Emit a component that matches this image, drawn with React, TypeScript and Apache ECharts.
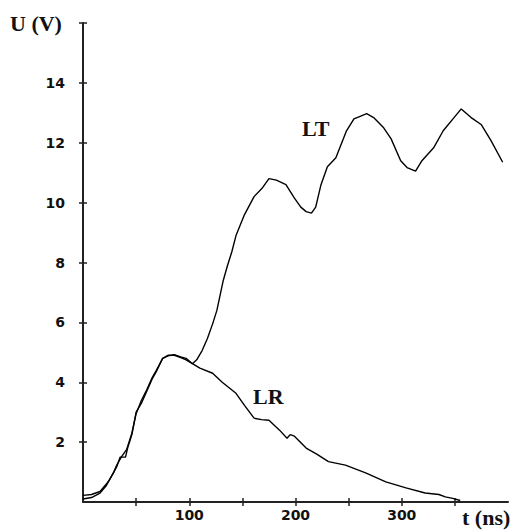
import React, { useEffect, useRef } from "react";
import * as echarts from "echarts";

const ltData: [number, number][] = [
  [0, 0.22], [8, 0.25], [16, 0.35], [22, 0.6], [25, 0.75], [29, 1.0], [32, 1.25], [36, 1.5],
  [41, 1.75], [46, 2.3], [50, 2.95], [55, 3.4], [60, 3.75], [65, 4.15], [69, 4.4], [75, 4.8],
  [80, 4.88], [86, 4.92], [92, 4.85], [97, 4.8], [103, 4.62], [107, 4.75], [112, 5.05], [117, 5.45],
  [122, 5.95], [126, 6.4], [129, 6.9], [132, 7.4], [136, 7.9], [140, 8.35], [144, 8.9], [152, 9.6],
  [161, 10.2], [169, 10.5], [175, 10.8], [182, 10.75], [191, 10.6], [199, 10.15], [205, 9.85],
  [210, 9.7], [215, 9.65], [219, 9.85], [224, 10.6], [230, 11.2], [238, 11.5], [243, 11.95],
  [248, 12.4], [255, 12.8], [262, 12.9], [267, 12.97], [274, 12.83], [283, 12.5], [290, 12.13],
  [299, 11.4], [305, 11.17], [313, 11.05], [319, 11.4], [330, 11.83], [339, 12.4], [349, 12.83],
  [356, 13.13], [365, 12.85], [375, 12.6], [384, 12.07], [395, 11.35],
];

const lrData: [number, number][] = [
  [0, 0.1], [8, 0.15], [16, 0.3], [22, 0.55], [25, 0.75], [29, 1.0], [32, 1.2], [35, 1.5],
  [40, 1.5], [42, 1.8], [46, 2.25], [50, 3.0], [55, 3.3], [60, 3.7], [65, 4.1], [69, 4.35],
  [75, 4.8], [80, 4.9], [86, 4.9], [92, 4.82], [97, 4.75], [103, 4.62], [110, 4.47], [122, 4.3],
  [131, 4.0], [144, 3.63], [152, 3.23], [161, 2.8], [168, 2.75], [175, 2.73], [185, 2.4],
  [192, 2.13], [195, 2.25], [199, 2.2], [210, 1.8], [220, 1.6], [231, 1.35], [247, 1.23],
  [266, 0.97], [285, 0.67], [304, 0.47], [322, 0.3], [335, 0.25], [341, 0.17], [348, 0.12],
  [355, 0.05],
];

const xTicks = [50, 100, 150, 200, 250, 300, 350];
const xLabels = [100, 200, 300];
const yTicks = [2, 4, 6, 8, 10, 12, 14, 16];
const yLabels = [2, 4, 6, 8, 10, 12, 14];

const AXIS_COLOR = "#222";
const labelFont = {
  fontFamily: "DejaVu Sans",
  fontWeight: "bold" as const,
  fontSize: 14,
  color: "#111",
};
const serif = "bold 22px 'Liberation Serif'";

export default function App() {
  const ref = useRef<HTMLDivElement>(null);
  useEffect(() => {
    if (!ref.current) return;
    const chart = echarts.init(ref.current, undefined, { renderer: "svg" });
    const xBase = {
      type: "value" as const,
      min: 0,
      max: 400,
      splitLine: { show: false },
    };
    const yBase = {
      type: "value" as const,
      min: 0,
      max: 16,
      splitLine: { show: false },
    };
    chart.setOption({
      animation: false,
      backgroundColor: "#fff",
      grid: { left: 83, right: 12, top: 23, bottom: 30, containLabel: false },
      xAxis: [
        {
          ...xBase,
          position: "bottom",
          axisLine: { show: true, lineStyle: { color: AXIS_COLOR, width: 2 } },
          axisTick: { show: true, customValues: xTicks, length: 4, lineStyle: { color: AXIS_COLOR, width: 1.5 } },
          axisLabel: { show: true, customValues: xLabels, margin: 6, ...labelFont },
        },
        {
          ...xBase,
          position: "bottom",
          offset: 0,
          axisLine: { show: false },
          axisTick: { show: true, inside: true, customValues: xTicks, length: 4, lineStyle: { color: AXIS_COLOR, width: 1.5 } },
          axisLabel: { show: false },
        },
      ],
      yAxis: [
        {
          ...yBase,
          position: "left",
          axisLine: { show: true, lineStyle: { color: AXIS_COLOR, width: 2 } },
          axisTick: { show: true, customValues: yTicks, length: 4, lineStyle: { color: AXIS_COLOR, width: 1.5 } },
          axisLabel: { show: true, customValues: yLabels, margin: 18, ...labelFont },
        },
        {
          ...yBase,
          position: "left",
          offset: 0,
          axisLine: { show: false },
          axisTick: { show: true, inside: true, customValues: yTicks, length: 4, lineStyle: { color: AXIS_COLOR, width: 1.5 } },
          axisLabel: { show: false },
        },
      ],
      series: [
        {
          name: "LT",
          type: "line",
          data: ltData,
          xAxisIndex: 0,
          yAxisIndex: 0,
          showSymbol: false,
          lineStyle: { color: "#000", width: 1.4 },
        },
        {
          name: "LR",
          type: "line",
          data: lrData,
          xAxisIndex: 0,
          yAxisIndex: 0,
          showSymbol: false,
          lineStyle: { color: "#000", width: 1.4 },
        },
      ],
      graphic: [
        { type: "text", left: 10, top: 12, style: { text: "U (V)", font: serif, fill: "#111" } },
        { type: "text", left: 462, top: 506, style: { text: "t (ns)", font: serif, fill: "#111" } },
        { type: "text", left: 302, top: 117, style: { text: "LT", font: serif, fill: "#111" } },
        { type: "text", left: 253, top: 385, style: { text: "LR", font: serif, fill: "#111" } },
      ],
    });
    return () => chart.dispose();
  }, []);
  return (
    <div
      ref={ref}
      style={{ position: "fixed", left: 0, top: 0, width: 520, height: 532, background: "#fff" }}
    />
  );
}
